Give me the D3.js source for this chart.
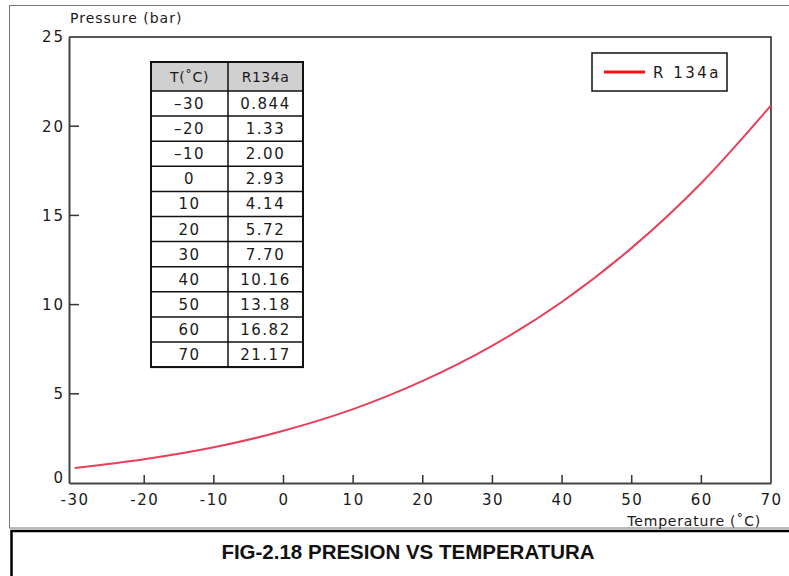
<!DOCTYPE html>
<html>
<head>
<meta charset="utf-8">
<script src="https://cdn.jsdelivr.net/npm/d3@7"></script>
<style>
  html, body { margin: 0; padding: 0; background: #fff; }
  svg { display: block; }
</style>
</head>
<body>
<svg id="chart" width="789" height="576"></svg>
<script>
// ---- data ----
const temperatures = [-30, -20, -10, 0, 10, 20, 30, 40, 50, 60, 70];
const pressures = [0.844, 1.33, 2.00, 2.93, 4.14, 5.72, 7.70, 10.16, 13.18, 16.82, 21.17];
const pressureLabels = ["0.844", "1.33", "2.00", "2.93", "4.14", "5.72", "7.70", "10.16", "13.18", "16.82", "21.17"];
const tableHeaders = ["T(\u02DAC)", "R134a"];
const xTicks = [-30, -20, -10, 0, 10, 20, 30, 40, 50, 60, 70];
const yTicks = [0, 5, 10, 15, 20, 25];
const seriesName = "R 134a";
const yTitle = "Pressure (bar)";
const xTitle = "Temperature (\u02DAC)";
const caption = "FIG-2.18 PRESION VS TEMPERATURA";

// ---- layout ----
const svg = d3.select("#chart");
const plot = { left: 69, right: 771, top: 37, bottom: 483 };
const x = d3.scaleLinear().domain([-30.8, 70]).range([plot.left, plot.right]);
const y = d3.scaleLinear().domain([0, 25]).range([plot.bottom, plot.top]);
const tickFont = "'DejaVu Sans', Verdana, sans-serif";
const ink = "#1a1a1a";

// outer frame
svg.append("rect").attr("x", 9.5).attr("y", 5.5).attr("width", 800).attr("height", 522.5)
  .attr("fill", "none").attr("stroke", "#777").attr("stroke-width", 1);

// caption box
svg.append("path").attr("d", "M11.5,577 L11.5,531 L800,531")
  .attr("fill", "none").attr("stroke", "#000").attr("stroke-width", 2.5);
svg.append("text").attr("x", 408).attr("y", 559).attr("text-anchor", "middle")
  .attr("font-family", "'Liberation Sans', Arial, sans-serif").attr("font-weight", "bold")
  .attr("font-size", 20.5).attr("fill", "#111").text(caption);

// plot frame (top & right)
svg.append("path")
  .attr("d", `M${plot.left},${plot.top} L${plot.right},${plot.top} L${plot.right},${plot.bottom}`)
  .attr("fill", "none").attr("stroke", "#222").attr("stroke-width", 1.5);

// x axis
const xAxis = d3.axisBottom(x).tickValues(xTicks).tickSize(0).tickPadding(11)
  .tickFormat(d => d < 0 ? "-" + Math.abs(d) : String(d));
const gx = svg.append("g").attr("transform", `translate(0,${plot.bottom})`).call(xAxis);
gx.select(".domain").attr("stroke", "#444").attr("stroke-width", 2);
gx.selectAll("text").attr("font-family", tickFont).attr("font-size", 15)
  .attr("letter-spacing", "1.5px").attr("fill", ink);
// inward tick marks (not at ends)
svg.append("g").selectAll("line").data(xTicks.filter(d => d > -30 && d < 70)).join("line")
  .attr("x1", d => x(d)).attr("x2", d => x(d))
  .attr("y1", plot.bottom).attr("y2", plot.bottom - 8)
  .attr("stroke", "#333").attr("stroke-width", 1.5);

// y axis
const yAxis = d3.axisLeft(y).tickValues(yTicks).tickSize(0).tickPadding(4);
const gy = svg.append("g").attr("transform", `translate(${plot.left},0)`).call(yAxis);
gy.select(".domain").attr("stroke", "#444").attr("stroke-width", 2);
gy.selectAll("text").attr("font-family", tickFont).attr("font-size", 15)
  .attr("letter-spacing", "2px").attr("fill", ink);
gy.selectAll(".tick").filter(d => d === 0).select("text").attr("dy", "-0.05em");
svg.append("g").selectAll("line").data(yTicks.filter(d => d > 0 && d < 25)).join("line")
  .attr("x1", plot.left).attr("x2", plot.left + 10)
  .attr("y1", d => y(d)).attr("y2", d => y(d))
  .attr("stroke", "#333").attr("stroke-width", 1.5);

// axis titles
svg.append("text").attr("x", 70).attr("y", 23).attr("font-family", tickFont)
  .attr("font-size", 14).attr("letter-spacing", "1px").attr("fill", ink).text(yTitle);
svg.append("text").attr("x", 761).attr("y", 526).attr("text-anchor", "end")
  .attr("font-family", tickFont).attr("font-size", 14).attr("letter-spacing", "0.8px")
  .attr("fill", ink).text(xTitle);

// curve
const data = temperatures.map((t, i) => ({ t, p: pressures[i] }));
const line = d3.line().x(d => x(d.t)).y(d => y(d.p)).curve(d3.curveMonotoneX);
svg.append("path").datum(data).attr("d", line)
  .attr("fill", "none").attr("stroke", "#e8405a").attr("stroke-width", 2);

// data table
const tbl = { left: 151, mid: 228, right: 303, top: 62, headH: 29, rowH: 25.1 };
const tg = svg.append("g");
tg.append("rect").attr("x", tbl.left).attr("y", tbl.top)
  .attr("width", tbl.right - tbl.left).attr("height", tbl.headH)
  .attr("fill", "#d0d0d0");
const tableBottom = tbl.top + tbl.headH + tbl.rowH * temperatures.length;
const rowYs = d3.range(temperatures.length + 1).map(i => tbl.top + tbl.headH + i * tbl.rowH);
tg.selectAll("line.row").data(rowYs).join("line").attr("class", "row")
  .attr("x1", tbl.left).attr("x2", tbl.right).attr("y1", d => d).attr("y2", d => d)
  .attr("stroke", "#111").attr("stroke-width", 1.5);
tg.append("line").attr("x1", tbl.mid).attr("x2", tbl.mid).attr("y1", tbl.top).attr("y2", tableBottom)
  .attr("stroke", "#111").attr("stroke-width", 1.5);
tg.append("rect").attr("x", tbl.left).attr("y", tbl.top)
  .attr("width", tbl.right - tbl.left).attr("height", tableBottom - tbl.top)
  .attr("fill", "none").attr("stroke", "#111").attr("stroke-width", 2);
// header text
tg.selectAll("text.head").data(tableHeaders).join("text").attr("class", "head")
  .attr("x", (d, i) => i === 0 ? (tbl.left + tbl.mid) / 2 : (tbl.mid + tbl.right) / 2)
  .attr("y", tbl.top + tbl.headH / 2 + 5)
  .attr("text-anchor", "middle").attr("font-family", tickFont).attr("font-size", 14)
  .attr("letter-spacing", "0.5px").attr("fill", ink).text(d => d);
// body text
tg.selectAll("text.t").data(temperatures).join("text").attr("class", "t")
  .attr("x", (tbl.left + tbl.mid) / 2)
  .attr("y", (d, i) => tbl.top + tbl.headH + i * tbl.rowH + tbl.rowH / 2 + 5.5)
  .attr("text-anchor", "middle").attr("font-family", tickFont).attr("font-size", 15)
  .attr("letter-spacing", "1.5px").attr("fill", ink).text(d => d < 0 ? "\u2013" + Math.abs(d) : d);
tg.selectAll("text.p").data(pressureLabels).join("text").attr("class", "p")
  .attr("x", (tbl.mid + tbl.right) / 2)
  .attr("y", (d, i) => tbl.top + tbl.headH + i * tbl.rowH + tbl.rowH / 2 + 5.5)
  .attr("text-anchor", "middle").attr("font-family", tickFont).attr("font-size", 15)
  .attr("letter-spacing", "1.5px").attr("fill", ink).text(d => d);

// legend
const lg = svg.append("g");
lg.append("rect").attr("x", 592).attr("y", 53).attr("width", 135).attr("height", 38)
  .attr("fill", "#fff").attr("stroke", "#111").attr("stroke-width", 1.5);
lg.append("line").attr("x1", 604).attr("x2", 645).attr("y1", 72).attr("y2", 72)
  .attr("stroke", "#ff1010").attr("stroke-width", 3);
lg.append("text").attr("x", 653).attr("y", 77.5).attr("font-family", tickFont)
  .attr("font-size", 15).attr("letter-spacing", "2.5px").attr("fill", ink).text(seriesName);
</script>
</body>
</html>
